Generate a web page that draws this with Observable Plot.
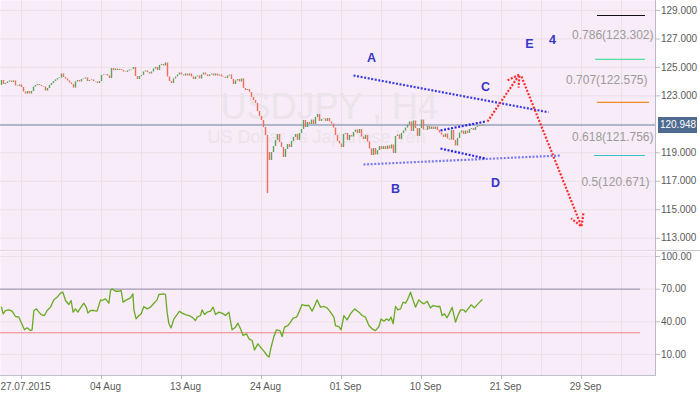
<!DOCTYPE html>
<html><head><meta charset="utf-8">
<script src="https://cdn.jsdelivr.net/npm/d3@7"></script>
<script src="https://cdn.jsdelivr.net/npm/@observablehq/plot@0.6"></script>
<style>
body{margin:0;background:#fff;font-family:"Liberation Sans",Arial,sans-serif;}
#chart{width:700px;height:394px;overflow:hidden}
#chart svg{display:block}
#sep{height:1px;background:#c6c6cc;width:700px}
</style></head><body><div id="chart"></div>
<script>
// ---- data ----
const firstOpen = 123.74;
const closes = [
124.08,123.80,123.87,123.98,124.05,123.94,124.05,123.70,123.66,123.77,
123.59,123.27,123.13,123.31,123.13,123.31,123.62,123.73,123.80,123.73,
123.66,123.62,123.34,123.52,123.73,123.87,124.01,124.12,124.22,124.26,
124.54,124.29,124.19,124.05,123.91,123.80,123.55,123.98,124.08,123.98,
124.15,124.19,124.26,124.01,124.08,124.12,124.01,123.98,123.87,124.01,
124.43,124.47,124.50,124.40,124.22,124.92,124.78,124.89,124.78,124.85,
124.78,124.68,124.64,124.75,124.82,124.85,125.00,124.36,124.15,124.36,
124.43,124.68,124.75,124.64,124.54,124.68,124.89,125.00,124.78,125.14,
125.21,125.10,125.31,124.33,124.01,123.87,124.19,124.33,124.47,124.61,
124.47,124.40,124.54,124.40,124.54,124.33,124.15,124.33,124.40,124.19,
124.47,124.61,124.47,124.36,124.47,124.54,124.40,124.54,124.40,124.47,
124.33,124.29,124.22,124.40,124.47,124.15,123.80,124.05,124.15,123.98,
124.19,123.52,123.38,123.45,123.24,122.89,122.68,122.47,121.90,121.55,
121.27,120.78,120.22,119.02,118.46,119.02,119.44,119.87,120.29,119.72,
119.37,118.67,119.23,119.58,119.37,119.80,120.08,120.29,119.87,120.36,
120.64,121.27,120.78,121.13,120.99,121.30,120.99,121.48,121.69,121.20,
121.34,121.38,121.20,121.41,121.17,121.02,120.74,120.22,119.80,119.62,
119.37,120.29,120.36,119.87,120.22,120.11,120.43,120.60,120.36,120.64,
120.11,119.94,120.22,119.76,119.27,118.81,119.30,118.85,119.16,119.44,
119.23,119.44,119.23,119.48,119.27,119.55,118.95,120.15,120.25,119.94,
120.36,120.53,120.74,120.95,121.17,120.50,121.24,120.71,120.15,120.71,
121.30,120.60,120.57,120.85,120.64,120.81,120.64,120.81,120.57,120.39,
120.25,120.08,120.32,119.97,119.90,120.57,119.87,119.48,120.01,120.39,
120.53,120.29,120.53,120.36,120.64,120.71,120.57,120.78,120.86,120.92,
120.88,120.95
];
const spikes = [{bar: 133, low: 116.14}];
const lastPrice = 120.948;

const rsiPoints = [
[0,53.5],[0.8,47.3],[2,50.4],[3.7,51.0],[5.3,49.8],[7,44.9],[8.7,44.3],[9.8,39.7],[11.5,32.7],[12.8,34.5],
[14.5,32.0],[15.3,32.7],[16.2,50.4],[17.5,51.9],[18.7,48.9],[19.8,46.7],[21.5,45.8],[22.8,50.4],[24.5,53.5],[26.2,60.2],
[27.8,62.6],[29.5,66.3],[30.7,67.2],[32,59.6],[33.7,55.9],[34.8,59.6],[35.8,48.9],[37,51.9],[38.2,48.9],[39.5,52.8],
[41.2,57.1],[42.5,52.8],[43.2,48.0],[44.5,50.4],[46.2,50.4],[47.8,49.8],[49.5,60.2],[50.3,59.6],[52,61.1],[53.7,57.1],
[54.5,68.8],[55.3,70.3],[57,68.1],[58.7,68.1],[59.8,68.8],[60.8,58.1],[62.5,60.2],[64.5,62.0],[65.7,65.7],[66.2,51.0],
[67.3,42.7],[68.7,45.8],[69.8,47.3],[71.2,54.1],[72.8,51.9],[74.5,53.5],[76.2,57.1],[77.8,60.2],[78.7,65.1],[81.2,65.7],
[82,65.1],[82.8,48.9],[83.7,38.2],[84.8,34.5],[86.2,42.7],[87.8,46.7],[89,49.8],[90.3,48.0],[92,46.7],[93.7,45.8],
[95.3,44.3],[97,41.2],[97.8,44.3],[99.5,45.8],[100.3,51.0],[101.5,46.7],[102.8,48.9],[104.5,49.8],[105.8,53.5],[107,46.7],
[108.7,48.9],[110.3,48.0],[112,45.8],[113.7,48.9],[115.3,32.7],[117,35.1],[118.2,38.8],[119.5,33.6],[120.8,27.5],[122.5,29.0],
[123.7,24.4],[125.3,22.9],[126.5,14.3],[128.2,19.8],[129.5,16.7],[131.2,13.1],[132.8,9.1],[133.8,7.6],[134.8,16.7],[136.2,26.5],
[137.5,32.7],[139.2,32.0],[140.3,26.5],[141.5,35.1],[143.2,36.6],[144.5,39.7],[145.8,43.4],[147.5,44.3],[148.7,48.9],[150.3,55.9],
[152,55.0],[153.7,55.0],[155.3,49.8],[157,56.5],[157.8,60.2],[159.5,53.5],[161.2,54.1],[162.8,52.8],[164.5,48.9],[166.2,44.3],
[167,36.6],[168.7,35.7],[169.8,32.7],[171.2,45.8],[172.8,41.8],[174.5,47.3],[176.5,51.9],[178.7,48.9],[180.3,45.8],[182,44.3],
[183.7,36.6],[185.3,33.6],[187,32.0],[188.7,35.7],[189.8,42.7],[191.2,40.6],[192.5,42.7],[193.7,41.2],[194.8,44.3],[195.8,38.2],
[197,54.1],[198.2,51.0],[199.5,51.9],[200.8,58.1],[202,57.1],[203.2,61.1],[204.5,67.2],[205.3,62.6],[207,53.5],[208.7,60.2],
[209.8,58.1],[211.2,56.5],[212.8,59.0],[214.5,52.8],[215.8,55.0],[217.5,54.1],[219.2,54.1],[220.3,45.8],[221.5,47.3],[222.8,43.7],
[224.2,48.9],[225.3,53.5],[227,39.7],[228.2,45.8],[229.5,51.0],[231.2,51.0],[232,48.9],[233.7,52.8],[234.8,55.6],[236.5,52.8],
[238.2,56.5],[240.3,60.2]
];
const rsiLevels = [{v: 70, color: "#a39db7"}, {v: 30, color: "#ef8585"}];

const priceTicks = [113, 115, 117, 119, 123, 125, 127, 129];
const priceGrid = [113, 115, 117, 119, 121, 123, 125, 127, 129];
const rsiTicks = [10, 40, 70, 100];
const gridBars = [10, 30, 50, 70, 90, 110, 130, 150, 170, 190, 210, 230, 250, 270, 290, 310];
const dateTickBars = [10, 50, 90, 130, 170, 210, 250, 290];
const dateTickLabels = ["27.07.2015", "04 Aug", "13 Aug", "24 Aug", "01 Sep", "10 Sep", "21 Sep", "29 Sep"];

const waveLines = [
  {x1: 176, y1: 124.43, x2: 273.5, y2: 121.85, color: "#3c3ce6"},
  {x1: 181, y1: 118.18, x2: 279.5, y2: 118.81, color: "#7b7bf2"},
  {x1: 219.5, y1: 120.57, x2: 242, y2: 121.20, color: "#2626e4"},
  {x1: 219.5, y1: 119.30, x2: 242, y2: 118.60, color: "#2626e4"}
];
const projection = [
  {x1: 243, y1: 121.20, x2: 259, y2: 124.50},
  {x1: 260, y1: 124.36, x2: 290, y2: 113.82}
];
const waveLabels = [
  {t: "A", bar: 185, price: 125.63},
  {t: "B", bar: 197, price: 116.49},
  {t: "C", bar: 242, price: 123.59},
  {t: "D", bar: 247, price: 116.91},
  {t: "E", bar: 264, price: 126.68},
  {t: "4", bar: 275.5, price: 126.96}
];
const fibLevels = [
  {x1: 298, x2: 322, price: 128.65, color: "#111111"},
  {x1: 297, x2: 322, price: 125.56, color: "#52e0a2"},
  {x1: 298, x2: 324, price: 122.54, color: "#f08a24"},
  {x1: 296.5, x2: 322, price: 118.81, color: "#35c5c8"}
];
const fibLabels = [
  {t: "0.786(123.302)", bar: 326, price: 127.24},
  {t: "0.707(122.575)", bar: 323, price: 124.08},
  {t: "0.618(121.756)", bar: 326, price: 120.08},
  {t: "0.5(120.671)", bar: 324, price: 116.91}
];

// ---- styling ----
const BG = "#f7ecf7", GRID = "#efdfe6", AXIS = "#b9bcc8", TXT = "#5a5a5a";
const UP = "#5ea35e", DOWN = "#f0705e";
const xDomain = [-0.5, 327];
const font = "Liberation Sans, Arial, sans-serif";

const bars = closes.map((c, i) => ({i, open: i ? closes[i - 1] : firstOpen, close: c}));
const spikeData = spikes.map(s => ({...s, close: closes[s.bar]}));

const main = Plot.plot({
  width: 700, height: 250,
  marginLeft: 0, marginRight: 45, marginTop: 0, marginBottom: 0,
  style: {fontFamily: font, fontSize: "10px", background: "transparent", overflow: "visible"},
  x: {domain: xDomain, axis: null, label: null},
  y: {domain: [112.135, 129.703], axis: null, label: null},
  color: {type: "identity"},
  marks: [
    Plot.frame({fill: BG, stroke: null}),
    Plot.ruleX(gridBars, {stroke: GRID}),
    Plot.ruleY(priceGrid, {stroke: GRID}),
    Plot.text(["USDJPY , H4"], {text: d => d, frameAnchor: "top-left", dx: 220, dy: 106.5, textAnchor: "start", lineAnchor: "middle", fontSize: 36, fill: "#ebe5eb"}),
    Plot.text(["US Dollar vs Japanese Yen"], {text: d => d, frameAnchor: "top-left", dx: 207, dy: 137.2, textAnchor: "start", lineAnchor: "middle", fontSize: 18, fill: "#ebe5eb"}),
    Plot.ruleY([lastPrice], {stroke: "#97a6bf", strokeWidth: 1.5}),
    Plot.ruleX(spikeData, {x: "bar", y1: "low", y2: "close", stroke: DOWN, strokeWidth: 1.4}),
    Plot.ruleX(bars, {x: "i", y1: "open", y2: "close", stroke: d => d.close >= d.open ? UP : DOWN, strokeWidth: 1.4}),
    Plot.link(waveLines, {x1: "x1", y1: "y1", x2: "x2", y2: "y2", stroke: "color", strokeWidth: 2.2, strokeDasharray: "2 1.6"}),
    Plot.arrow(projection, {x1: "x1", y1: "y1", x2: "x2", y2: "y2", stroke: "#ff2d2d", strokeWidth: 2.2, strokeDasharray: "2 1.6", strokeLinecap: "butt", strokeLinejoin: "miter", headLength: 9, headAngle: 60}),
    Plot.ruleY(fibLevels, {y: "price", x1: "x1", x2: "x2", stroke: "color", strokeWidth: 1.2}),
    Plot.text(fibLabels, {x: "bar", y: "price", text: "t", textAnchor: "end", fontSize: 12, fill: "#9b9b9b"}),
    Plot.text(waveLabels, {x: "bar", y: "price", text: "t", fontSize: 12.5, fontWeight: "bold", fill: "#3636c8"}),
    Plot.ruleX([xDomain[1]], {stroke: AXIS}),
    Plot.axisY(priceTicks, {anchor: "right", label: null, tickFormat: d3.format(".3f"), tickSize: 4, tickPadding: 1.5, stroke: AXIS, fill: TXT, fontSize: 10}),
    Plot.ruleY([lastPrice], {x1: 328.5, x2: 348, stroke: "#4e6b8f", strokeWidth: 16}),
    Plot.text([lastPrice], {x: 338.25, y: d => d, text: d3.format(".3f"), fill: "white", fontSize: 10})
  ]
});

const rsi = Plot.plot({
  width: 700, height: 143,
  marginLeft: 0, marginRight: 45, marginTop: 0, marginBottom: 19,
  style: {fontFamily: font, fontSize: "10px", background: "transparent", overflow: "visible"},
  x: {domain: xDomain, axis: null, label: null},
  y: {domain: [-9.27, 104.59], axis: null, label: null},
  color: {type: "identity"},
  marks: [
    Plot.frame({fill: BG, stroke: null}),
    Plot.ruleX(gridBars, {stroke: GRID}),
    Plot.ruleY(rsiTicks, {stroke: GRID}),
    Plot.ruleY(rsiLevels, {y: "v", x1: xDomain[0], x2: 319.5, stroke: "color", strokeWidth: 1.1}),
    Plot.line(rsiPoints, {x: d => d[0], y: d => d[1], stroke: "#69aa23", strokeWidth: 1.3}),
    Plot.ruleX([xDomain[1]], {stroke: AXIS}),
    Plot.frame({anchor: "bottom", stroke: "#c0c0c8"}),
    Plot.axisY(rsiTicks, {anchor: "right", label: null, tickFormat: d3.format(".2f"), tickSize: 4, tickPadding: 1.5, stroke: AXIS, fill: TXT, fontSize: 10}),
    Plot.axisX(dateTickBars, {anchor: "bottom", label: null, tickSize: 4, tickFormat: () => "", stroke: AXIS}),
    Plot.axisX(dateTickBars, {anchor: "bottom", label: null, tickSize: 0, tickPadding: 7.5, dx: 4, tickFormat: d => dateTickLabels[dateTickBars.indexOf(d)], fill: TXT, fontSize: 10})
  ]
});

const root = document.getElementById("chart");
root.appendChild(main);
const sep = document.createElement("div"); sep.id = "sep"; root.appendChild(sep);
root.appendChild(rsi);
</script></body></html>
